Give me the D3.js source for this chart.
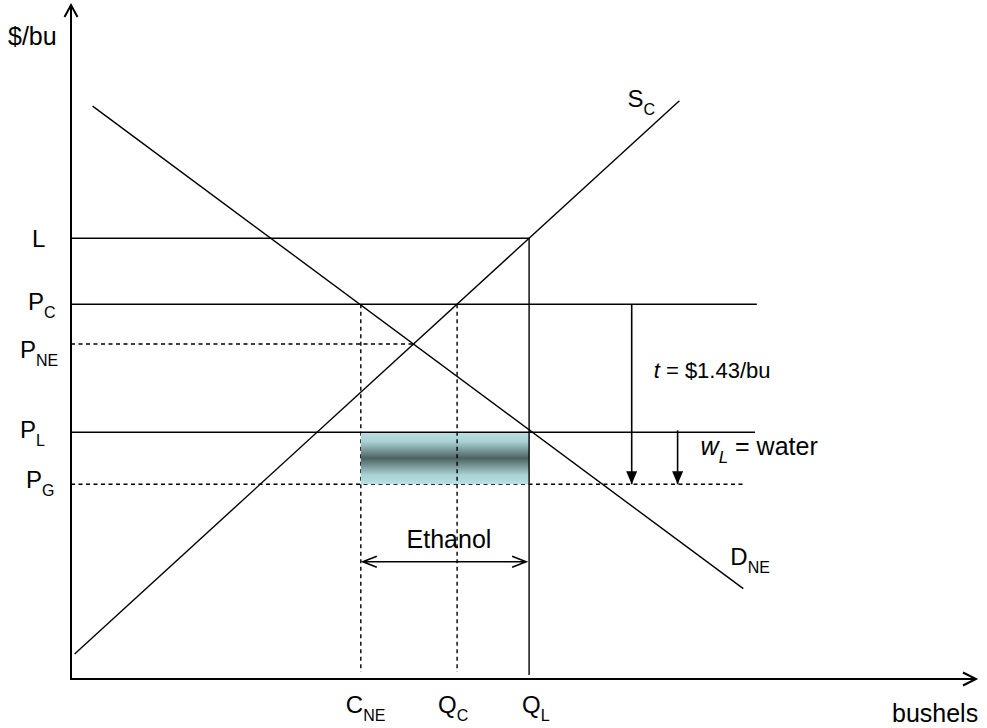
<!DOCTYPE html>
<html>
<head>
<meta charset="utf-8">
<script src="https://cdn.jsdelivr.net/npm/d3@7"></script>
<style>
body{margin:0;background:#fff}
svg text{font-family:"Liberation Sans",Arial,sans-serif;fill:#000}
</style>
</head>
<body>
<div class="graph"></div>
<script>
//DATA (index units, axis 0..100)
const priceNames = ["L","P_C","P_NE","P_L","P_G"]
const priceVals  = [65.4, 55.6, 49.7, 36.6, 28.9]
const qtyNames = ["C_NE","Q_C","Q_L"]
const qtyVals  = [32.2, 42.9, 50.9]
const supplyC  = [[0.4, 3.7],[67.6, 85.8]]
const demandNE = [[2.4, 85.0],[74.7, 13.4]]
// how far right each price line runs (quantity units)
const priceLineEnd = [50.9, 76.2, null, 76.0, 74.9]
const taxText = "$1.43/bu"

const P = {}
priceNames.forEach((n,i) => P[n] = priceVals[i])
const Q = {}
qtyNames.forEach((n,i) => Q[n] = qtyVals[i])

//scales
const W = 987, H = 728
const x = d3.scaleLinear().domain([0,100]).range([71,971])
const y = d3.scaleLinear().domain([0,100]).range([679,5])

let svg = d3.select('.graph')
    .append('svg')
    .attr('width', W)
    .attr('height', H)

let defs = svg.append('defs')
defs.append('marker')
    .attr('id','tri')
    .attr('markerUnits','userSpaceOnUse')
    .attr('viewBox','0 -5.5 13 11')
    .attr('refX',13).attr('refY',0)
    .attr('markerWidth',13).attr('markerHeight',11)
    .attr('orient','auto')
  .append('path')
    .attr('d','M0,-5.5L13,0L0,5.5Z')
    .attr('fill','#000')

let grad = defs.append('linearGradient')
    .attr('id','band')
    .attr('x1',0).attr('y1',0).attr('x2',0).attr('y2',1)
const stops = [[0,'#b9e0e3'],[0.18,'#a9d2d5'],[0.5,'#4d6262'],[0.82,'#a9d2d5'],[1,'#b9e0e3']]
grad.selectAll('stop').data(stops).enter().append('stop')
    .attr('offset', d => d[0])
    .attr('stop-color', d => d[1])

// supply / demand intersection -> where P_NE dashed line ends
function intersect(a, b){
  const m1 = (a[1][1]-a[0][1])/(a[1][0]-a[0][0]), c1 = a[0][1]-m1*a[0][0]
  const m2 = (b[1][1]-b[0][1])/(b[1][0]-b[0][0]), c2 = b[0][1]-m2*b[0][0]
  return (c2-c1)/(m1-m2)
}
priceLineEnd[2] = intersect(supplyC, demandNE)

const solid = ["L","P_C","P_L"]
function hline(name, i){
  svg.append('line')
    .attr('x1', x(0)).attr('x2', x(priceLineEnd[i]))
    .attr('y1', y(P[name])).attr('y2', y(P[name]))
    .attr('stroke','#000')
    .attr('stroke-width',1.4)
    .attr('stroke-dasharray', solid.includes(name) ? null : '4,3.5')
}
function vline(q, top, dashed){
  svg.append('line')
    .attr('x1', x(q)).attr('x2', x(q))
    .attr('y1', y(top)).attr('y2', y(0) - (dashed ? 7 : 4))
    .attr('stroke','#000')
    .attr('stroke-width',1.4)
    .attr('stroke-dasharray', dashed ? '4,3.5' : null)
}

// P_G dashed underneath the band
hline("P_G", 4)
vline(Q.C_NE, P.P_C, true)

//ethanol band
svg.append('rect')
    .attr('x', x(Q.C_NE))
    .attr('y', y(P.P_L))
    .attr('width', x(Q.Q_L)-x(Q.C_NE))
    .attr('height', y(P.P_G)-y(P.P_L))
    .attr('fill','url(#band)')

hline("L", 0); hline("P_C", 1); hline("P_NE", 2); hline("P_L", 3)
vline(Q.Q_C, P.P_C, true)
vline(Q.Q_L, P.L, false)

//curves
let line = d3.line().x(d => x(d[0])).y(d => y(d[1]))
;[supplyC, demandNE].forEach(c => {
  svg.append('path').attr('d', line(c))
    .attr('fill','none').attr('stroke','#000').attr('stroke-width',1.4)
})

//axes
svg.append('path')
    .attr('d', `M${x(0)},${y(100)}V${y(0)}H${x(100)+5}`)
    .attr('fill','none').attr('stroke','#000').attr('stroke-width',2)
svg.append('path')
    .attr('d', `M${x(0)-6.5},${y(100)+12}L${x(0)},${y(100)}L${x(0)+6.5},${y(100)+12}`)
    .attr('fill','none').attr('stroke','#000').attr('stroke-width',2)
svg.append('path')
    .attr('d', `M${x(100)-8},${y(0)-6.5}L${x(100)+5},${y(0)}L${x(100)-8},${y(0)+6.5}`)
    .attr('fill','none').attr('stroke','#000').attr('stroke-width',2)

//tax and water arrows
const tX = 62.3, wX = 67.4
svg.append('line')
    .attr('x1', x(tX)).attr('x2', x(tX))
    .attr('y1', y(P.P_C)).attr('y2', y(P.P_G))
    .attr('stroke','#000').attr('stroke-width',1.6)
    .attr('marker-end','url(#tri)')
svg.append('line')
    .attr('x1', x(wX)).attr('x2', x(wX))
    .attr('y1', y(P.P_L)-2).attr('y2', y(P.P_G))
    .attr('stroke','#000').attr('stroke-width',1.6)
    .attr('marker-end','url(#tri)')

//ethanol double arrow
const eY = 17.4
const ex1 = x(Q.C_NE)+2, ex2 = x(Q.Q_L)-3, ey = y(eY)
svg.append('path')
    .attr('d', `M${ex1},${ey}H${ex2}M${ex1+14},${ey-5.5}L${ex1},${ey}L${ex1+14},${ey+5.5}M${ex2-14},${ey-5.5}L${ex2},${ey}L${ex2-14},${ey+5.5}`)
    .attr('fill','none').attr('stroke','#000').attr('stroke-width',1.6)

//labels
function label(name, px, py, size){
  const parts = name.split('_')
  let t = svg.append('text').attr('x', px).attr('y', py).attr('font-size', size)
  t.append('tspan').text(parts[0])
  if (parts[1]) t.append('tspan').attr('font-size', 16).attr('dy', 8).text(parts[1])
  return t
}
const yLabelX  = {L:32, P_C:28, P_NE:20, P_L:20, P_G:26}
const yLabelDy = {L:9, P_C:6, P_NE:14, P_L:6, P_G:4}
priceNames.forEach(n => label(n, yLabelX[n], y(P[n])+yLabelDy[n], 24))
const xLabelDx = {C_NE:-15, Q_C:-19, Q_L:-7}
qtyNames.forEach(n => label(n, x(Q[n])+xLabelDx[n], 713, 24))

label("S_C", x(supplyC[1][0])-52, y(supplyC[1][1])+6, 24)
label("D_NE", x(demandNE[1][0])-13, y(demandNE[1][1])-24, 24)

svg.append('text').attr('x', 8).attr('y', 45).attr('font-size', 25).text('$/bu')
svg.append('text').attr('x', 892).attr('y', 722).attr('font-size', 25).text('bushels')
svg.append('text')
    .attr('x', (x(Q.C_NE)+x(Q.Q_L))/2+4).attr('y', ey-14)
    .attr('text-anchor','middle').attr('font-size', 25).text('Ethanol')

let tt = svg.append('text').attr('x', x(tX)+22).attr('y', (y(P.P_C)+y(P.P_G))/2-16).attr('font-size', 22)
tt.append('tspan').attr('font-style','italic').text('t')
tt.append('tspan').text(' = ' + taxText)

let wt = svg.append('text').attr('x', x(wX)+23).attr('y', y(P.P_L)+23).attr('font-size', 25)
wt.append('tspan').attr('font-style','italic').text('w')
wt.append('tspan').attr('font-style','italic').attr('font-size',17).attr('dy',8).text('L')
wt.append('tspan').attr('dy',-8).text(' = water')
</script>
</body>
</html>
